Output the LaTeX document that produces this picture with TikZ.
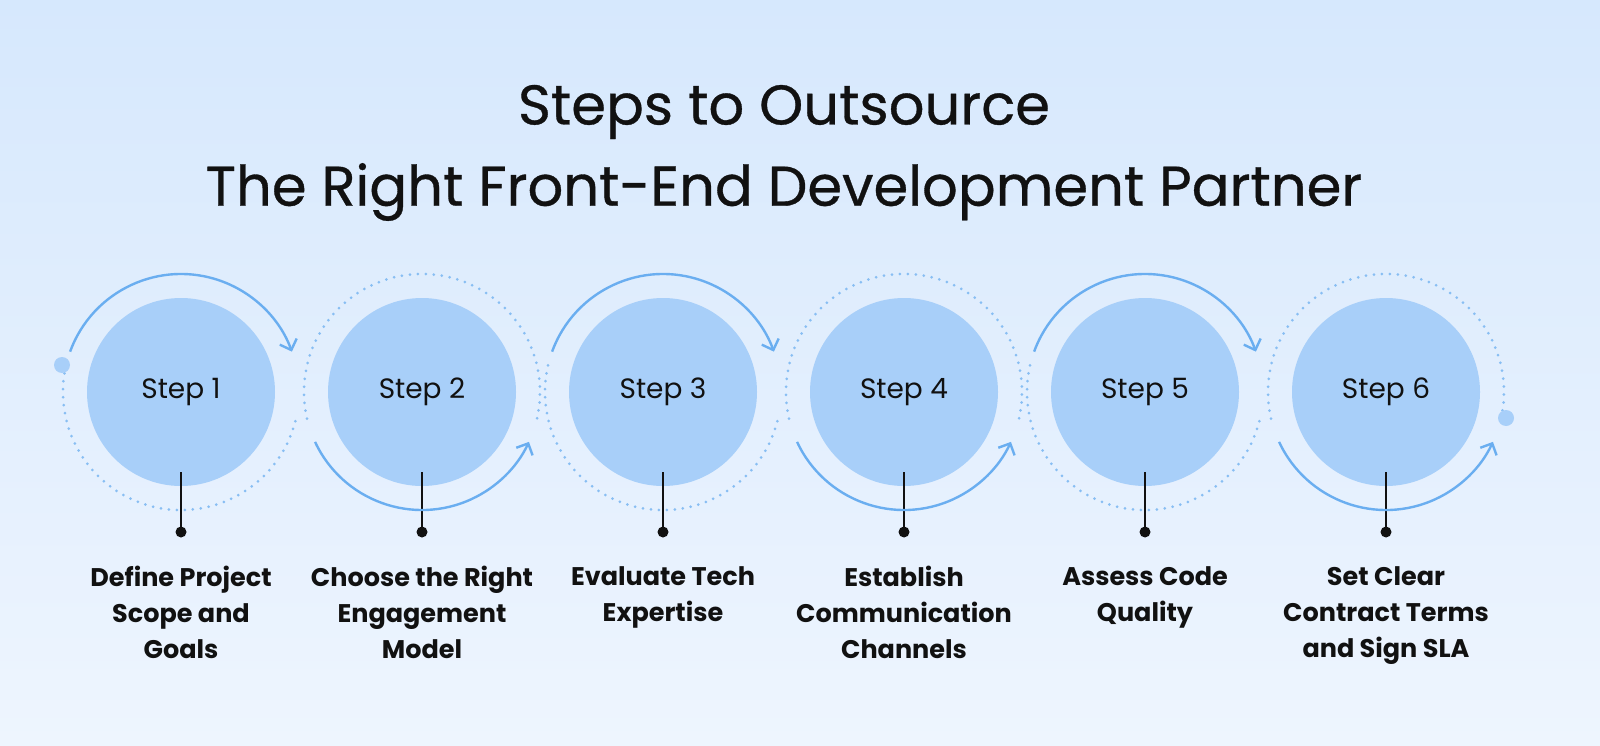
\documentclass[tikz,border=0pt]{standalone}
\usepackage{fontspec}
\setmainfont{Poppins}
\newfontfamily\titlefont[FakeBold=0.6]{Poppins}
\usetikzlibrary{arrows.meta}
\definecolor{bgtop}{HTML}{D6E8FD}
\definecolor{bgbot}{HTML}{EEF5FE}
\definecolor{circ}{HTML}{A8CFF9}
\definecolor{arcc}{HTML}{6AAEF0}
\definecolor{ink}{HTML}{111111}
\tikzset{
  stepcirc/.style={circle,fill=circ,minimum size=188pt,inner sep=0pt,font=\fontsize{28}{32}\selectfont,text=ink},
  solidarc/.style={draw=arcc,line width=2.4pt,-{Straight Barb[length=9pt,width=18pt,line width=2.4pt]}},
  dotarc/.style={draw=arcc!80,line width=3pt,line cap=round,dash pattern=on 0pt off 8pt},
  lbl/.style={font=\bfseries\fontsize{25.5}{36}\selectfont,text=ink,align=center,anchor=north},
  stem/.style={draw=ink,line width=1.8pt},
}
\begin{document}
\begin{tikzpicture}[x=1pt,y=1pt]
\shade[top color=bgtop,bottom color=bgbot] (0,0) rectangle (1600,-746);
\node[font=\titlefont\fontsize{56}{60}\selectfont,text=ink] (t1) at (784,-112) {Steps to Outsource};
\node[font=\titlefont\fontsize{56}{60}\selectfont,text=ink] (t2) at (784,-192) {The Right Front-End Development Partner};
\foreach \i/\lab in {1/{Define Project\\Scope and\\Goals},2/{Choose the Right\\Engagement\\Model},3/{Evaluate Tech\\Expertise},4/{Establish\\Communication\\Channels},5/{Assess Code\\Quality},6/{Set Clear\\Contract Terms\\and Sign SLA}}{
  \pgfmathsetmacro{\cx}{181+241*(\i-1)}
  \node[stepcirc] (c\i) at (\cx,-392) {Step \i};
  \coordinate (s\i) at (\cx,-472);
  \coordinate (e\i) at (\cx,-532);
  \draw[stem] (s\i) -- (e\i);
  \fill[ink] (e\i) circle (5.5pt);
  \node[lbl] (l\i) at (\cx,-563) {\lab};
  \ifodd\i
    \draw[solidarc] ([shift={(160:118)}]\cx,-392) arc[start angle=160,end angle=20,radius=118];
    \draw[dotarc] ([shift={(167:118)}]\cx,-392) arc[start angle=167,end angle=347,radius=118];
  \else
    \draw[solidarc] ([shift={(-155:118)}]\cx,-392) arc[start angle=-155,end angle=-25,radius=118];
    \draw[dotarc] ([shift={(193:118)}]\cx,-392) arc[start angle=193,end angle=-13,radius=118];
  \fi
}
\fill[circ] (62,-365) circle (8pt);
\fill[circ] (1506,-418) circle (8pt);
\pgfresetboundingbox
\useasboundingbox (0,0) rectangle (1600,-746);
\end{tikzpicture}
\end{document}
